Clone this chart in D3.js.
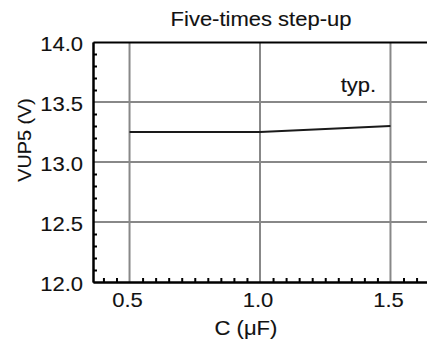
<!DOCTYPE html>
<html>
<head>
<meta charset="utf-8">
<script src="https://cdn.jsdelivr.net/npm/d3@7"></script>
<style>
  body { margin: 0; background: #fff; }
  svg { display: block; font-family: "Liberation Sans", Arial, sans-serif; }
  svg text { stroke: #111; stroke-width: 0.12px; }
</style>
</head>
<body>
<div id="graph"></div>
<script>
// Datos de la curva
const capacitance = [0.5, 1.0, 1.5]
const vup5 = [13.25, 13.25, 13.30]
const xTicks = [0.5, 1.0, 1.5]
const yTicks = [12.0, 12.5, 13.0, 13.5, 14.0]
const xMinor = [0.4, 0.45, 0.55, 0.6, 0.65, 0.7, 0.75, 0.8, 0.85, 0.9, 0.95, 1.05, 1.1, 1.15, 1.2, 1.25, 1.3, 1.35, 1.4, 1.45, 1.55, 1.6]
const yMinor = [12.1, 12.2, 12.3, 12.4, 12.6, 12.7, 12.8, 12.9, 13.1, 13.2, 13.3, 13.4, 13.6, 13.7, 13.8, 13.9]

const dimensions = { width: 427, height: 351 }
const margin = { left: 93, right: 0, top: 42, bottom: 69 }
const fontSize = 20
const sx = 1.1 // el texto original esta estirado en horizontal

const svg = d3.select("#graph")
  .append("svg")
    .attr("width", dimensions.width)
    .attr("height", dimensions.height)

const x = d3.scaleLinear()
  .domain([0.36, 1.64])
  .range([margin.left, dimensions.width - margin.right])

const y = d3.scaleLinear()
  .domain([12, 14])
  .range([dimensions.height - margin.bottom, margin.top])

// Rejilla
const grid = svg.append("g")
  .attr("stroke", "#888")
  .attr("stroke-width", 2)

grid.selectAll("line.v")
  .data(xTicks)
  .join("line")
    .attr("class", "v")
    .attr("x1", d => x(d)).attr("x2", d => x(d))
    .attr("y1", y(12)).attr("y2", y(14))

grid.selectAll("line.h")
  .data(yTicks.filter(d => d > 12 && d < 14))
  .join("line")
    .attr("class", "h")
    .attr("x1", x.range()[0]).attr("x2", x.range()[1])
    .attr("y1", d => y(d)).attr("y2", d => y(d))

// Curva
const line = d3.line()
  .x((d, i) => x(capacitance[i]))
  .y(d => y(d))

svg.append("path")
  .datum(vup5)
  .attr("fill", "none")
  .attr("stroke", "#1a1a1a")
  .attr("stroke-width", 2)
  .attr("d", line)

// Ejes
const styleAxis = g => {
  g.select(".domain").attr("stroke", "#000").attr("stroke-width", 2)
  g.selectAll(".tick line").attr("stroke", "#000").attr("stroke-width", 2)
  g.selectAll("text")
    .attr("fill", "#111")
    .style("font-size", fontSize + "px")
    .style("font-family", "Liberation Sans, Arial, sans-serif")
}

const yAxis = svg.append("g")
  .attr("transform", `translate(${margin.left},0)`)
  .call(d3.axisLeft(y).tickValues(yTicks).tickSize(0).tickPadding(10).tickFormat(d3.format(".1f")))
  .call(styleAxis)
yAxis.selectAll("text")
  .attr("x", -10 / sx)
  .attr("dy", "0.42em")
  .attr("transform", `scale(${sx},1)`)

const xAxis = svg.append("g")
  .attr("transform", `translate(0,${y(12)})`)
  .call(d3.axisBottom(x).tickValues(xTicks).tickSize(0).tickPadding(11).tickFormat(d3.format(".1f")))
  .call(styleAxis)
xAxis.selectAll(".tick text")
  .attr("transform", `scale(${sx},1)`)
xAxis.selectAll(".tick")
  .each(function (d) {
    d3.select(this).attr("transform", `translate(${x(d) - 2},0)`)
  })

// Marcas menores hacia dentro
svg.append("g")
  .attr("transform", `translate(${margin.left},0)`)
  .call(d3.axisLeft(y).tickValues(yMinor).tickSize(-4).tickSizeOuter(0).tickFormat(""))
  .call(styleAxis)

svg.append("g")
  .attr("transform", `translate(0,${y(12)})`)
  .call(d3.axisBottom(x).tickValues(xMinor).tickSize(-4).tickSizeOuter(0).tickFormat(""))
  .call(styleAxis)

// Borde superior
svg.append("g")
  .attr("transform", `translate(0,${y(14)})`)
  .call(d3.axisTop(x).tickValues([]).tickSizeOuter(0))
  .call(styleAxis)

// Textos
const addText = (str, px, py, anchor, rotate, size) => {
  svg.append("g")
    .attr("transform", `translate(${px},${py})` + (rotate ? ` rotate(${rotate})` : ""))
    .append("text")
      .attr("transform", `scale(${sx},1)`)
      .attr("text-anchor", anchor)
      .attr("fill", "#111")
      .style("font-size", (size || fontSize) + "px")
      .text(str)
}

addText("Five-times step-up", 261, 26, "middle")
addText("C (\u03bcF)", 246, 335, "middle")
addText("VUP5 (V)", 31, 140, "middle", -90, 18)
addText("typ.", x(1.445), y(13.586), "end")
</script>
</body>
</html>
